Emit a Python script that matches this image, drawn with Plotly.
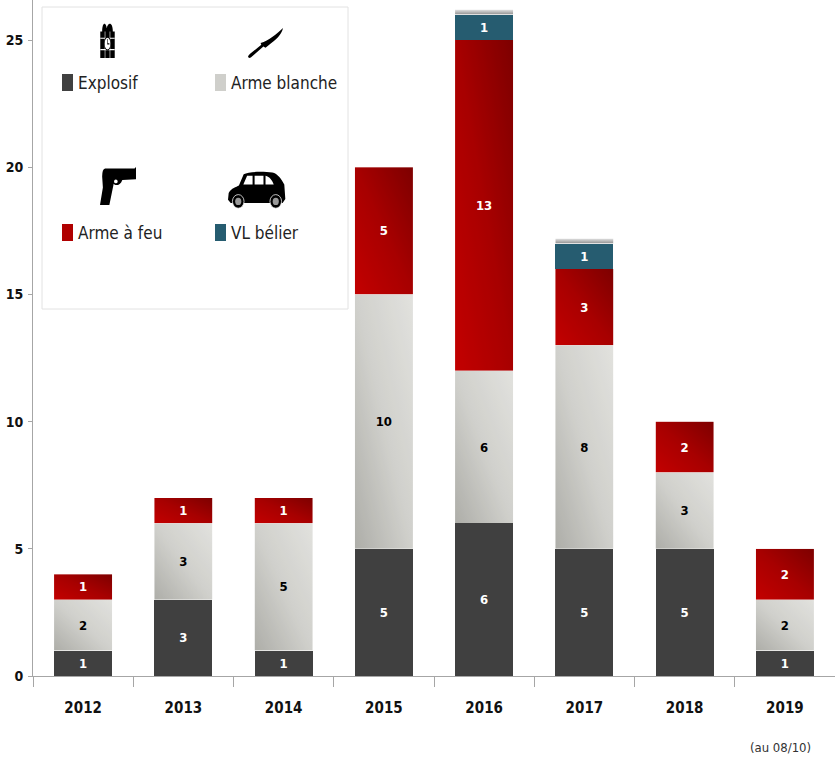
import base64
import plotly.graph_objects as go

years = ["2012", "2013", "2014", "2015", "2016", "2017", "2018", "2019"]
explosif = [1, 3, 1, 5, 6, 5, 5, 1]
arme_blanche = [2, 3, 5, 10, 6, 8, 3, 2]
arme_feu = [1, 1, 1, 5, 13, 3, 2, 2]
vl_belier = [None, None, None, None, 1, 1, None, None]
yticks = [0, 5, 10, 15, 20, 25]
FONT = "DejaVu Sans Condensed, Liberation Sans, sans-serif"

W, H = 835, 760
L, R, T, B = 33, 0, 0, 84
PW, PH = W - L - R, H - T - B
YMAX = PH / 25.44


def px(x):
    return (x - L) / PW


def py(y):
    return 1 - (y - T) / PH


def uri(svg):
    return "data:image/svg+xml;base64," + base64.b64encode(svg.encode()).decode()


def grad(stops, x1=0, y1=1, x2=1, y2=0):
    s = "".join(f'<stop offset="{o}" stop-color="{c}" stop-opacity="{a}"/>' for o, c, a in stops)
    return uri(
        '<svg xmlns="http://www.w3.org/2000/svg" width="100" height="100" preserveAspectRatio="none" viewBox="0 0 100 100">'
        f'<defs><linearGradient id="g" x1="{x1}" y1="{y1}" x2="{x2}" y2="{y2}">{s}</linearGradient></defs>'
        '<rect width="100" height="100" fill="url(#g)"/></svg>'
    )


RED = grad([(0, "#c80000", 1), (0.5, "#a80000", 1), (1, "#760000", 1)])
GREY = grad([(0, "#a9a9a4", 1), (0.5, "#d2d2ce", 1), (1, "#e6e6e3", 1)])
SHADOW = grad([(0, "#909090", 1), (1, "#e4e4e4", 1)], 0, 1, 0, 0)


def icon(body, vb="0 0 100 100"):
    return uri(f'<svg xmlns="http://www.w3.org/2000/svg" width="200" height="200" preserveAspectRatio="none" viewBox="{vb}">{body}</svg>')


BOMB = icon(
    '<path d="M22 30 C22 5 42 5 46 22 C52 5 78 5 78 30 L88 30 L88 100 L12 100 L12 30Z" fill="#000"/>'
    '<path d="M12 48H88M12 78H88M37 30V100M63 30V100" stroke="#fff" stroke-width="3"/>'
    '<circle cx="50" cy="62" r="17" fill="#fff" stroke="#000" stroke-width="3"/>'
    '<path d="M50 50V63H60" stroke="#000" stroke-width="3" fill="none"/>'
)
KNIFE = icon('<path d="M100 0 C96 22 80 40 58 58 L50 66 L44 62 L8 98 Q2 102 0 96 Q0 92 6 86 L38 56 L36 50 C60 42 82 20 100 0Z" fill="#000"/>')
GUN = icon(
    '<path d="M14 4 L96 4 L100 0 L100 32 L62 34 C56 50 42 50 38 44 L26 100 L0 100 L8 54 L6 25 Q6 6 14 4Z" fill="#000"/>'
    '<circle cx="44" cy="38" r="5" fill="#fff"/>'
)
CAR = icon(
    '<path d="M2 55 C10 42 24 40 32 36 L46 8 C60 1 105 1 130 4 C145 6 158 22 165 34 L168 70 L160 80 L8 80 L0 72Z" fill="#000"/>'
    '<path d="M56 12 L72 12 L72 34 L45 34Z M78 12 L104 12 L104 34 L78 34Z M110 12 C122 14 130 24 134 34 L110 34Z" fill="#fff"/>'
    '<circle cx="30" cy="76" r="17" fill="#000" stroke="#fff" stroke-width="2"/><circle cx="30" cy="76" r="9" fill="#999"/>'
    '<circle cx="140" cy="76" r="17" fill="#000" stroke="#fff" stroke-width="2"/><circle cx="140" cy="76" r="9" fill="#999"/>',
    "0 0 170 95",
)

series = [
    ("Explosif", explosif, "rgba(64,64,64,1)", "#ffffff"),
    ("Arme blanche", arme_blanche, "rgba(200,200,196,0.15)", "#000000"),
    ("Arme à feu", arme_feu, "rgba(170,0,0,0.15)", "#ffffff"),
    ("VL bélier", vl_belier, "rgba(38,92,112,1)", "#ffffff"),
]

fig = go.Figure()
for name, vals, col, tc in series:
    fig.add_bar(
        x=years, y=vals, name=name, width=0.58, marker=dict(color=col, line_width=0),
        text=vals, textposition="inside", insidetextanchor="middle", textangle=0,
        textfont=dict(family=FONT, size=13, color=tc, weight="bold"), cliponaxis=False,
    )

images = []
shapes = []
for i in range(len(years)):
    e, b, f, v = explosif[i], arme_blanche[i], arme_feu[i], vl_belier[i]
    images.append(dict(source=GREY, xref="x", yref="y", x=i - 0.29, y=e + b, sizex=0.58, sizey=b,
                       sizing="stretch", xanchor="left", yanchor="top", layer="below"))
    images.append(dict(source=RED, xref="x", yref="y", x=i - 0.29, y=e + b + f, sizex=0.58, sizey=f,
                       sizing="stretch", xanchor="left", yanchor="top", layer="below"))
    if v:
        top = e + b + f + v
        images.append(dict(source=SHADOW, xref="x", yref="y", x=i - 0.29, y=top + 0.2, sizex=0.58, sizey=0.2,
                           sizing="stretch", xanchor="left", yanchor="top", layer="below"))


def pic(src, x0, y0, x1, y1):
    images.append(dict(source=src, xref="paper", yref="paper", x=px(x0), y=py(y0), sizex=px(x1) - px(x0),
                       sizey=py(y0) - py(y1), sizing="stretch", xanchor="left", yanchor="top", layer="above"))


pic(BOMB, 98, 20, 117, 58)
pic(KNIFE, 248, 28, 283, 58)
pic(GUN, 100, 167, 136, 205)
pic(CAR, 228, 171, 286, 209)

shapes.append(dict(type="rect", xref="paper", yref="paper", x0=px(42), x1=px(348), y0=py(7), y1=py(309),
                   line=dict(color="#e2e2e2", width=1), fillcolor="rgba(255,255,255,0)", layer="above"))
legend_items = [("Explosif", 62, 83, "#404040"), ("Arme blanche", 215, 83, "#cfcfcb"),
                ("Arme à feu", 62, 233, "#b00000"), ("VL bélier", 215, 233, "#265c70")]
annotations = []
for label, x, y, c in legend_items:
    shapes.append(dict(type="rect", xref="paper", yref="paper", x0=px(x), x1=px(x + 11), y0=py(y - 9), y1=py(y + 9 - 1),
                       line_width=0, fillcolor=c, layer="above"))
    annotations.append(dict(text=label, xref="paper", yref="paper", x=px(x + 14), y=py(y), xanchor="left", yanchor="middle",
                            showarrow=False, font=dict(family=FONT, size=17, color="#222222")))
annotations.append(dict(text="(au 08/10)", xref="paper", yref="paper", x=px(780), y=py(747), xanchor="center", yanchor="middle",
                        showarrow=False, font=dict(family=FONT, size=13, color="#333333")))

fig.update_layout(
    width=W, height=H, barmode="stack", showlegend=False, paper_bgcolor="white", plot_bgcolor="white",
    margin=dict(l=L, r=R, t=T, b=B), images=images, shapes=shapes, annotations=annotations, hovermode=False,
    font=dict(family=FONT),
)
fig.update_xaxes(type="category", tickson="boundaries", ticks="outside", ticklen=10, tickwidth=1, tickcolor="#a6a6a6",
                 showline=True, linecolor="#a6a6a6", linewidth=1, showgrid=False, range=[-0.5, 7.5],
                 ticklabelstandoff=18,
                 tickfont=dict(family=FONT, size=15, color="#111111", weight="bold"))
fig.update_yaxes(range=[0, YMAX], tickvals=yticks, ticks="outside", ticklen=4, tickwidth=1, tickcolor="#a6a6a6",
                 showline=True, linecolor="#a6a6a6", linewidth=1, showgrid=False, zeroline=False,
                 ticklabelstandoff=2,
                 tickfont=dict(family=FONT, size=14, color="#111111", weight="bold"))
fig.write_html("out.html", config=dict(displayModeBar=False),
               post_script="document.body.style.margin='0';document.documentElement.style.overflow='hidden';")
